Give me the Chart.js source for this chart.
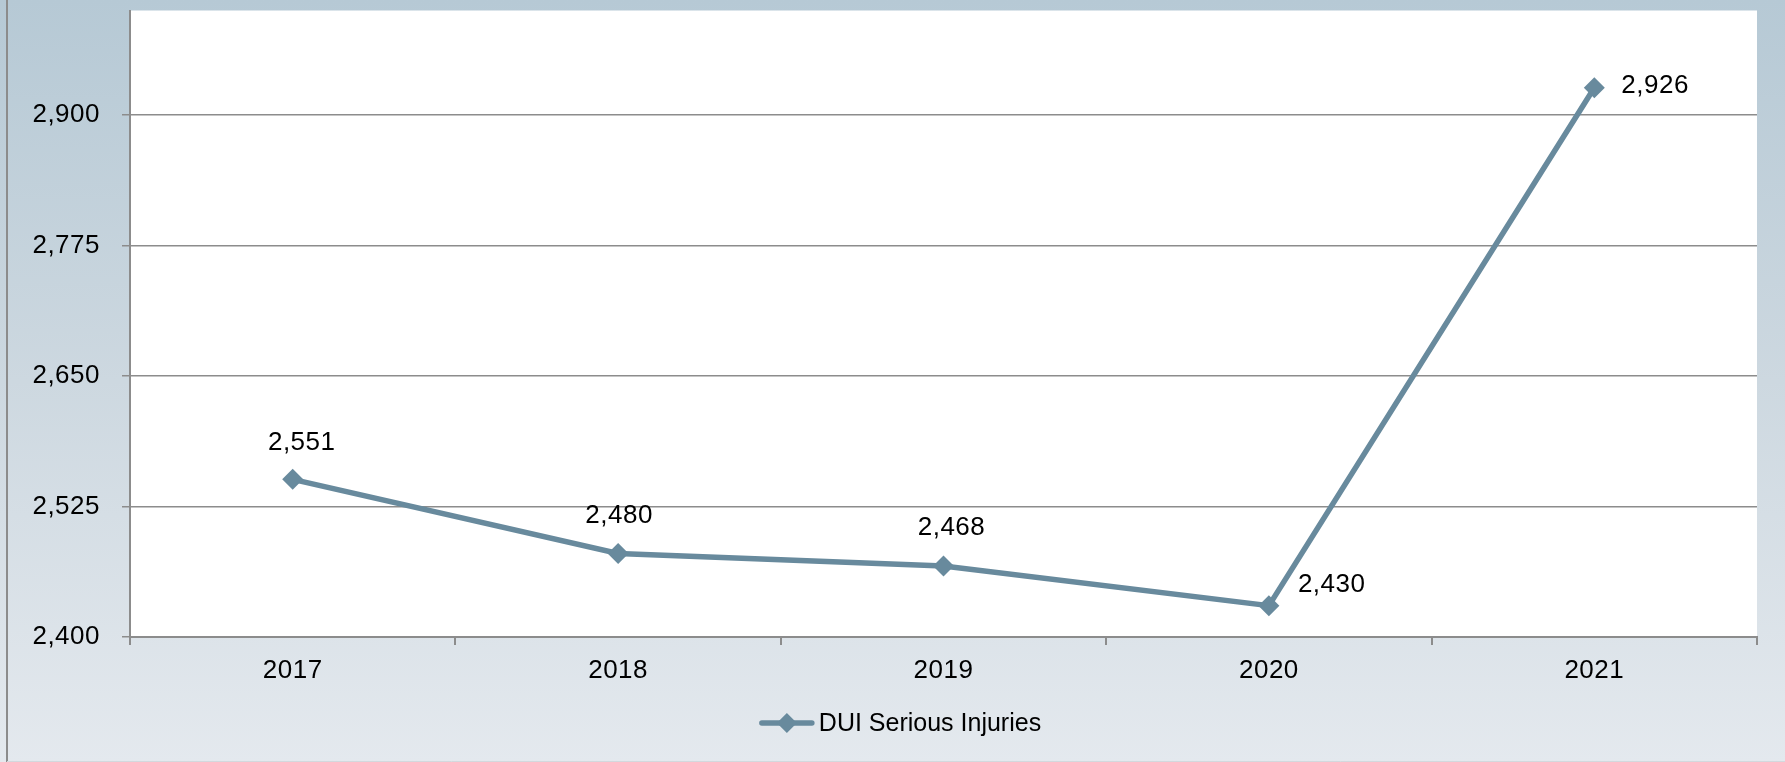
<!DOCTYPE html>
<html>
<head>
<meta charset="utf-8">
<script src="https://cdn.jsdelivr.net/npm/chart.js@4/dist/chart.umd.min.js"></script>
<style>
  html, body { margin: 0; padding: 0; background: #ffffff; }
  canvas { display: block; }
</style>
</head>
<body>
<canvas id="chart" width="1785" height="762"></canvas>
<script>
// Annual DUI serious injuries
const years = ['2017', '2018', '2019', '2020', '2021'];
const injuries = [2551, 2480, 2468, 2430, 2926];
const seriesName = 'DUI Serious Injuries';
const yMin = 2400;
const yMax = 3000;
const yTicks = [2400, 2525, 2650, 2775, 2900];

const FONT = '"Liberation Sans", Arial, sans-serif';
const NUM_SIZE = 26;
const LEGEND_SIZE = 25;
const LINE_COLOR = '#688a9d';
const GRID_COLOR = '#8c8c8c';
const fmt = v => Number(v).toLocaleString('en-US');

// Panel background: soft vertical gradient, white plot area, left frame line
const panelBackground = {
  id: 'panelBackground',
  beforeDraw(chart) {
    const { ctx, width, height, chartArea: a } = chart;
    ctx.letterSpacing = '0.5px';
    ctx.save();
    const g = ctx.createLinearGradient(0, 0, 0, height);
    g.addColorStop(0, '#b6c9d5');
    g.addColorStop(0.5, '#cdd8e0');
    g.addColorStop(1, '#e4e9ee');
    ctx.fillStyle = g;
    ctx.fillRect(0, 0, width, height);
    ctx.fillStyle = '#ffffff';
    ctx.fillRect(a.left, a.top, a.right - a.left, a.bottom - a.top);
    ctx.strokeStyle = '#8c8c8c';
    ctx.lineWidth = 2;
    ctx.beginPath();
    ctx.moveTo(7, 0);
    ctx.lineTo(7, height);
    ctx.stroke();
    ctx.strokeStyle = '#d3d8dd';
    ctx.lineWidth = 1;
    ctx.beginPath();
    ctx.moveTo(7, height - 0.5);
    ctx.lineTo(width, height - 0.5);
    ctx.stroke();
    ctx.restore();
  }
};

// Value labels next to each point
const valueLabels = {
  id: 'valueLabels',
  afterDatasetsDraw(chart, args, opts) {
    const { ctx } = chart;
    const meta = chart.getDatasetMeta(0);
    const values = chart.data.datasets[0].data;
    ctx.save();
    ctx.font = opts.font;
    ctx.fillStyle = opts.color;
    ctx.textBaseline = 'middle';
    meta.data.forEach((pt, i) => {
      const p = opts.placements[i];
      ctx.textAlign = p.align;
      ctx.fillText(fmt(values[i]), pt.x + p.dx, pt.y + p.dy);
    });
    ctx.restore();
  }
};

// Legend: line with diamond marker, then series name
const lineLegend = {
  id: 'lineLegend',
  afterDraw(chart, args, opts) {
    const { ctx } = chart;
    const ds = chart.data.datasets[0];
    ctx.save();
    ctx.letterSpacing = '0px';
    ctx.font = opts.font;
    const textW = ctx.measureText(ds.label).width;
    const lineW = 56, gap = 4;
    const total = lineW + gap + textW;
    const x0 = opts.centerX - total / 2;
    const y = opts.y;
    ctx.strokeStyle = ds.borderColor;
    ctx.lineWidth = 5.5;
    ctx.lineCap = 'round';
    ctx.beginPath();
    ctx.moveTo(x0 + 3, y);
    ctx.lineTo(x0 + lineW - 3, y);
    ctx.stroke();
    const cx = x0 + lineW / 2, r = 10;
    ctx.fillStyle = ds.pointBackgroundColor;
    ctx.beginPath();
    ctx.moveTo(cx, y - r);
    ctx.lineTo(cx + r, y);
    ctx.lineTo(cx, y + r);
    ctx.lineTo(cx - r, y);
    ctx.closePath();
    ctx.fill();
    ctx.fillStyle = '#000000';
    ctx.textAlign = 'left';
    ctx.textBaseline = 'middle';
    ctx.fillText(ds.label, x0 + lineW + gap, y + 1);
    ctx.restore();
  }
};

new Chart(document.getElementById('chart'), {
  type: 'line',
  data: {
    labels: years,
    datasets: [{
      label: seriesName,
      data: injuries,
      borderColor: LINE_COLOR,
      backgroundColor: LINE_COLOR,
      borderWidth: 5.5,
      tension: 0,
      pointStyle: 'rectRot',
      pointRadius: 10.5,
      pointHoverRadius: 10.5,
      pointBorderWidth: 0,
      pointBackgroundColor: LINE_COLOR,
      pointBorderColor: LINE_COLOR,
      clip: false
    }]
  },
  options: {
    responsive: false,
    animation: false,
    devicePixelRatio: 1,
    layout: { padding: { left: 0, right: 28, top: 7, bottom: 0 } },
    plugins: {
      legend: { display: false },
      tooltip: { enabled: false },
      valueLabels: {
        font: NUM_SIZE + 'px ' + FONT,
        color: '#000000',
        placements: [
          { align: 'center', dx: 9, dy: -37 },
          { align: 'center', dx: 1, dy: -38 },
          { align: 'center', dx: 8, dy: -38 },
          { align: 'left', dx: 29, dy: -21 },
          { align: 'left', dx: 27, dy: -2 }
        ]
      },
      lineLegend: { font: LEGEND_SIZE + 'px ' + FONT, centerX: 900, y: 723 }
    },
    scales: {
      x: {
        type: 'category',
        offset: true,
        afterFit(scale) {
          scale.height = 125;
          scale.paddingLeft = 0;
          scale.paddingRight = 0;
        },
        grid: {
          offset: true,
          drawOnChartArea: false,
          drawTicks: true,
          tickLength: 8,
          color: GRID_COLOR,
          lineWidth: 2
        },
        border: { display: true, color: GRID_COLOR, width: 2 },
        ticks: {
          color: '#000000',
          padding: 10,
          maxRotation: 0,
          font: { size: NUM_SIZE, family: FONT }
        }
      },
      y: {
        min: yMin,
        max: yMax,
        afterFit(scale) {
          scale.width = 130;
          scale.paddingTop = 0;
          scale.paddingBottom = 0;
        },
        afterBuildTicks(scale) { scale.ticks = yTicks.map(v => ({ value: v })); },
        grid: {
          color: GRID_COLOR,
          lineWidth: 1.5,
          drawTicks: true,
          tickLength: 8
        },
        border: { display: true, color: GRID_COLOR, width: 2 },
        ticks: {
          padding: 22,
          color: '#000000',
          font: { size: NUM_SIZE, family: FONT },
          callback: v => fmt(v)
        }
      }
    }
  },
  plugins: [panelBackground, valueLabels, lineLegend]
});
</script>
</body>
</html>
